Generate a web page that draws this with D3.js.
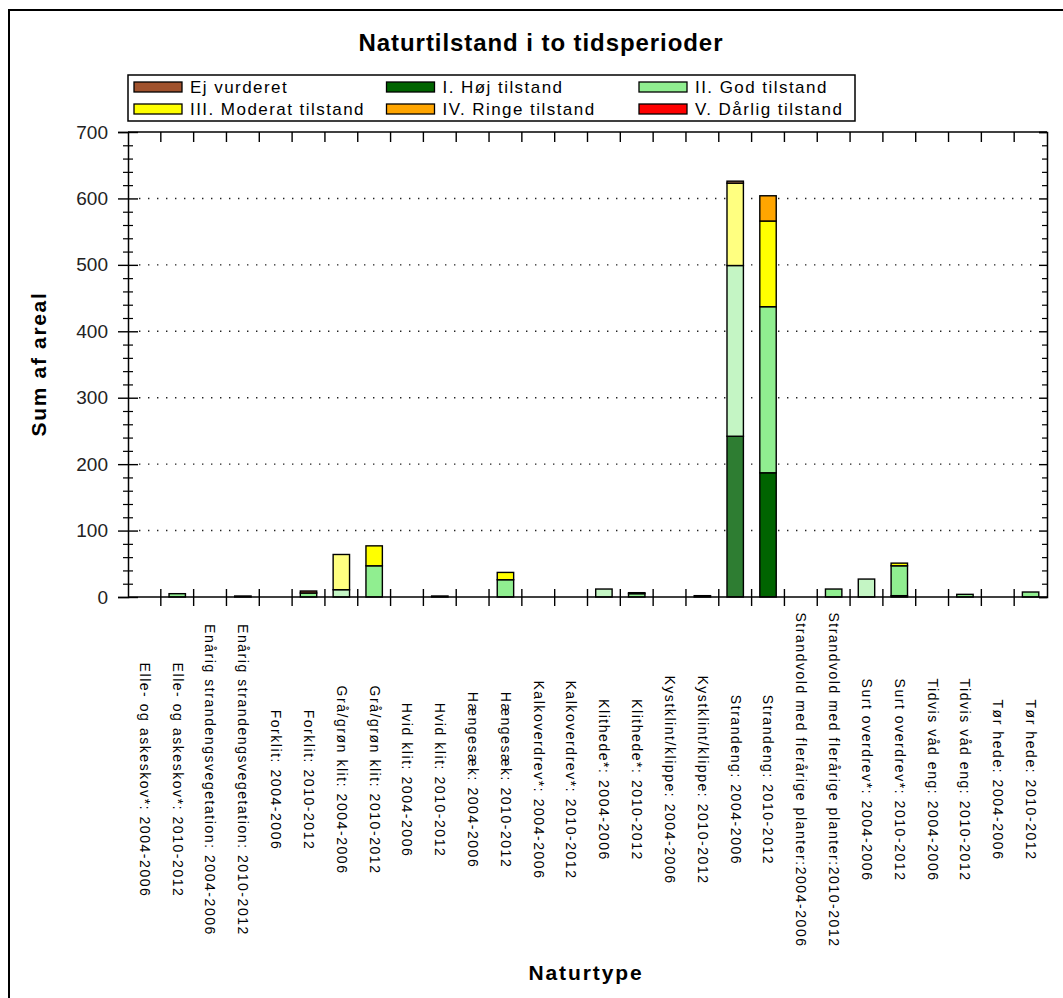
<!DOCTYPE html>
<html><head><meta charset="utf-8">
<script src="https://cdn.jsdelivr.net/npm/d3@7/dist/d3.min.js"></script>
<style>
body{margin:0;background:#fff;}
svg{display:block;font-family:"Liberation Sans",Arial,sans-serif;}
</style></head>
<body><svg id="c" width="1063" height="998"></svg>
<script>
const categories = [
"Elle- og askeskov*: 2004-2006","Elle- og askeskov*: 2010-2012",
"Enårig strandengsvegetation: 2004-2006","Enårig strandengsvegetation: 2010-2012",
"Forklit: 2004-2006","Forklit: 2010-2012",
"Grå/grøn klit: 2004-2006","Grå/grøn klit: 2010-2012",
"Hvid klit: 2004-2006","Hvid klit: 2010-2012",
"Hængesæk: 2004-2006","Hængesæk: 2010-2012",
"Kalkoverdrev*: 2004-2006","Kalkoverdrev*: 2010-2012",
"Klithede*: 2004-2006","Klithede*: 2010-2012",
"Kystklint/klippe: 2004-2006","Kystklint/klippe: 2010-2012",
"Strandeng: 2004-2006","Strandeng: 2010-2012",
"Strandvold med flerårige planter:2004-2006","Strandvold med flerårige planter:2010-2012",
"Surt overdrev*: 2004-2006","Surt overdrev*: 2010-2012",
"Tidvis våd eng: 2004-2006","Tidvis våd eng: 2010-2012",
"Tør hede: 2004-2006","Tør hede: 2010-2012"];
// series values, one per category
const hoejTilstand    = [0,0,0,0,0,0,0,0,0,0,0,0,0,0,0,0,0,0,242,187,0,0,0,2,0,0,0,0];
const godTilstand     = [0,5,0,1.5,0,6,11,47,0,1.5,0,26,0,0,12,5,0,2,257,250,0,12,27,45,0,4,0,7.5];
const moderatTilstand = [0,0,0,0,0,0,53,30,0,0,0,11,0,0,0,0,0,0,124,129,0,0,0,4,0,0,0,0];
const ringeTilstand   = [0,0,0,0,0,0,0,0,0,0,0,0,0,0,0,0,0,0,0,38,0,0,0,0,0,0,0,0];
const daarligTilstand = [0,0,0,0,0,0,0,0,0,0,0,0,0,0,0,0,0,0,0,0,0,0,0,0,0,0,0,0];
const ejVurderet      = [0,0,0,0,0,3,0,0,0,0,0,0,0,0,0,1.5,0,0,3,0,0,0,0,0,0,0,0,0];
const legendLabels = ["Ej vurderet","I. Høj tilstand","II. God tilstand","III. Moderat tilstand","IV. Ringe tilstand","V. Dårlig tilstand"];
const yTicks = [0,100,200,300,400,500,600,700];
const title = "Naturtilstand i to tidsperioder";
const yTitle = "Sum af areal";
const xTitle = "Naturtype";

const series = [
 {key:"ej", name:legendLabels[0], color:"#A0522D", light:"#C08060", values:ejVurderet},
 {key:"hoej", name:legendLabels[1], color:"#006400", light:"#2E7D32", values:hoejTilstand},
 {key:"god", name:legendLabels[2], color:"#90EE90", light:"#C4F5C4", values:godTilstand},
 {key:"mod", name:legendLabels[3], color:"#FFFF00", light:"#FFFF80", values:moderatTilstand},
 {key:"ringe", name:legendLabels[4], color:"#FFA500", light:"#FFD080", values:ringeTilstand},
 {key:"daarlig", name:legendLabels[5], color:"#FF0000", light:"#FF8080", values:daarligTilstand}
];
const stackOrder = ["hoej","god","mod","ringe","daarlig","ej"];

const svg = d3.select("#c");
const L=128, R=1047, T=132, B=597;

// outer frame
svg.append("rect").attr("x",9).attr("y",10).attr("width",1200).attr("height",1200)
  .attr("fill","none").attr("stroke","#000").attr("stroke-width",2);

const x = d3.scaleBand().domain(categories).range([L,R]).paddingInner(0.5).paddingOuter(0.25);
const step = (R-L)/categories.length;
const y = d3.scaleLinear().domain([0,700]).range([B,T]);

function fit(sel, target){
  sel.each(function(){
    const t=d3.select(this); t.attr("letter-spacing",0);
    const w=this.getComputedTextLength(); const n=t.text().length;
    t.attr("letter-spacing",((target-w)/n).toFixed(2));
  });
}

// gridlines
svg.append("g").selectAll("line").data(yTicks.filter(v=>v>0&&v<700)).join("line")
  .attr("x1",L+11).attr("x2",R-8).attr("y1",d=>y(d)).attr("y2",d=>y(d))
  .attr("stroke","#222").attr("stroke-width",1.4).attr("stroke-dasharray","1.4,7.6");

// bars
const rows = categories.map((c,i)=>{const o={cat:c,idx:i}; series.forEach(s=>o[s.key]=s.values[i]); return o;});
const stack = d3.stack().keys(stackOrder)(rows);
const sByKey = Object.fromEntries(series.map(s=>[s.key,s]));
const barG = svg.append("g");
stack.forEach(layer=>{
  const s = sByKey[layer.key];
  const segs = layer.filter(d=>d[1]-d[0]>0);
  barG.selectAll(null).data(segs).join("rect")
    .attr("x",d=>x(d.data.cat)).attr("width",x.bandwidth())
    .attr("y",d=>y(d[1])).attr("height",d=>y(d[0])-y(d[1]))
    .attr("fill",d=>d.data.idx%2===0 ? s.light : s.color)
    .attr("stroke","#000").attr("stroke-width",1.4);
});

// left axis
const ax = svg.append("g").attr("transform",`translate(${L},0)`);
ax.call(d3.axisLeft(y).tickValues(yTicks).tickSize(10).tickPadding(10));
ax.select(".domain").attr("stroke-width",1.5);
ax.selectAll(".tick line").attr("x1",-10).attr("x2",10).attr("stroke-width",1.4);
ax.selectAll(".tick text").attr("font-size",19).attr("fill","#222").attr("font-family","Liberation Sans, Arial, sans-serif");
const minor = d3.range(0,701,20).filter(v=>v%100!==0);
const axm = svg.append("g").attr("transform",`translate(${L},0)`);
axm.call(d3.axisLeft(y).tickValues(minor).tickSize(5).tickFormat(""));
axm.select(".domain").remove();
axm.selectAll(".tick line").attr("x1",-5).attr("x2",5).attr("stroke-width",1.2);

// right axis
const ar = svg.append("g").attr("transform",`translate(${R},0)`);
ar.call(d3.axisLeft(y).tickValues(yTicks).tickSize(8).tickFormat(""));
ar.select(".domain").attr("stroke-width",1.5);
ar.selectAll(".tick line").attr("stroke-width",1.4);
const arm = svg.append("g").attr("transform",`translate(${R},0)`);
arm.call(d3.axisLeft(y).tickValues(minor).tickSize(5).tickFormat(""));
arm.select(".domain").remove();
arm.selectAll(".tick line").attr("stroke-width",1.2);

// bottom & top axis with boundary ticks
const bounds = d3.range(1,categories.length).map(i=>x.range()[0]+i*step);
svg.append("line").attr("x1",L).attr("x2",R).attr("y1",B).attr("y2",B).attr("stroke","#000").attr("stroke-width",1.6);
svg.append("line").attr("x1",L).attr("x2",R).attr("y1",T).attr("y2",T).attr("stroke","#000").attr("stroke-width",1.6);
svg.append("g").selectAll("line").data(bounds).join("line")
  .attr("x1",d=>d).attr("x2",d=>d).attr("y1",B-8).attr("y2",B+9).attr("stroke","#000").attr("stroke-width",1.4);
svg.append("g").selectAll("line").data(bounds).join("line")
  .attr("x1",d=>d).attr("x2",d=>d).attr("y1",T).attr("y2",T+10).attr("stroke","#000").attr("stroke-width",1.4);

// x labels
const xl = svg.append("g").selectAll("text").data(categories).join("text")
  .attr("transform",d=>`translate(${x(d)+x.bandwidth()/2},780) rotate(90)`)
  .attr("text-anchor","middle").attr("dy","0.33em").attr("font-size",14).attr("fill","#000")
  .text(d=>d);
(function(){
  const ref = xl.filter(d=>d===categories[2]).node();
  const w = ref.getComputedTextLength();
  xl.attr("letter-spacing",((312-w)/categories[2].length).toFixed(2));
})();

// titles
const tt = svg.append("text").attr("x",541).attr("y",51).attr("text-anchor","middle")
  .attr("font-weight","bold").attr("font-size",24).text(title);
fit(tt,365);
const yt = svg.append("text").attr("transform","translate(46,364) rotate(-90)").attr("text-anchor","middle")
  .attr("font-weight","bold").attr("font-size",21).text(yTitle);
fit(yt,145);
const xt = svg.append("text").attr("x",586).attr("y",980).attr("text-anchor","middle")
  .attr("font-weight","bold").attr("font-size",21).text(xTitle);
fit(xt,115);

// legend
const lg = svg.append("g");
lg.append("rect").attr("x",128).attr("y",75).attr("width",727).attr("height",46)
  .attr("fill","#fff").attr("stroke","#000").attr("stroke-width",1.5);
const li = lg.selectAll("g.it").data(series).join("g").attr("class","it")
  .attr("transform",(d,i)=>`translate(${134+(i%3)*252.5},${82+Math.floor(i/3)*22})`);
li.append("rect").attr("width",48).attr("height",10).attr("fill",d=>d.color).attr("stroke","#000").attr("stroke-width",1.3);
const ltx = li.append("text").attr("x",56).attr("y",11).attr("font-size",17).text(d=>d.name);
(function(){
  const ref = ltx.filter(d=>d.key==="mod").node();
  const w = ref.getComputedTextLength();
  ltx.attr("letter-spacing",((175-w)/legendLabels[3].length).toFixed(2));
})();
</script></body></html>
